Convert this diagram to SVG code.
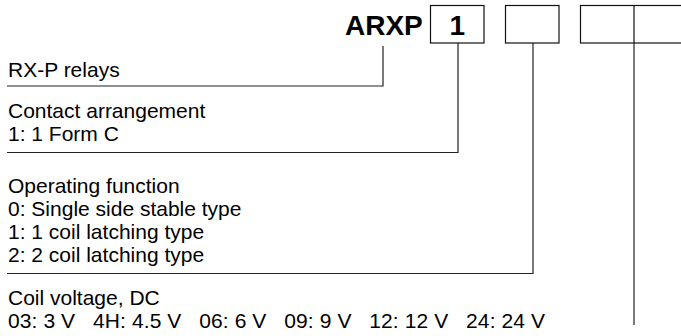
<svg xmlns="http://www.w3.org/2000/svg" width="681" height="336" viewBox="0 0 681 336">
<style>
.t{font-family:"Liberation Sans",Arial,Helvetica,sans-serif;font-size:21px;fill:#000}
.b{font-family:"Liberation Sans",Arial,Helvetica,sans-serif;font-size:28px;font-weight:bold;fill:#000}
.box{fill:none;stroke:#111;stroke-width:1.2}
.ln{fill:none;stroke:#222;stroke-width:1.2}
</style>
<rect width="681" height="336" fill="#fff"/>
<g id="code">
<text class="b" x="345" y="35">ARXP</text>
<rect class="box" x="430.5" y="5.5" width="53.5" height="37.5"/>
<text class="b" x="457.3" y="35" text-anchor="middle">1</text>
<rect class="box" x="505.5" y="5.5" width="53.5" height="37.5"/>
<rect class="box" x="580.5" y="5.5" width="107" height="37.5"/>
<line class="box" x1="634" y1="5.5" x2="634" y2="43"/>
</g>
<g id="connectors">
<polyline class="ln" points="383,46 383,86 7,86"/>
<polyline class="ln" points="458,43 458,152.5 7,152.5"/>
<polyline class="ln" points="533,43 533,273.5 7,273.5"/>
<line class="ln" x1="634" y1="43" x2="634" y2="325"/>
</g>
<g id="series">
<text class="t" x="8" y="77">RX-P relays</text>
</g>
<g id="contact">
<text class="t" x="8" y="118">Contact arrangement</text>
<text class="t" x="8" y="141">1: 1 Form C</text>
</g>
<g id="operating">
<text class="t" x="8" y="192.5">Operating function</text>
<text class="t" x="8" y="215.8">0: Single side stable type</text>
<text class="t" x="8" y="239">1: 1 coil latching type</text>
<text class="t" x="8" y="262.3">2: 2 coil latching type</text>
</g>
<g id="voltage">
<text class="t" x="8" y="305">Coil voltage, DC</text>
<text class="t" x="8" y="328" textLength="537" lengthAdjust="spacing" xml:space="preserve">03: 3 V   4H: 4.5 V   06: 6 V   09: 9 V   12: 12 V   24: 24 V</text>
</g>
</svg>
